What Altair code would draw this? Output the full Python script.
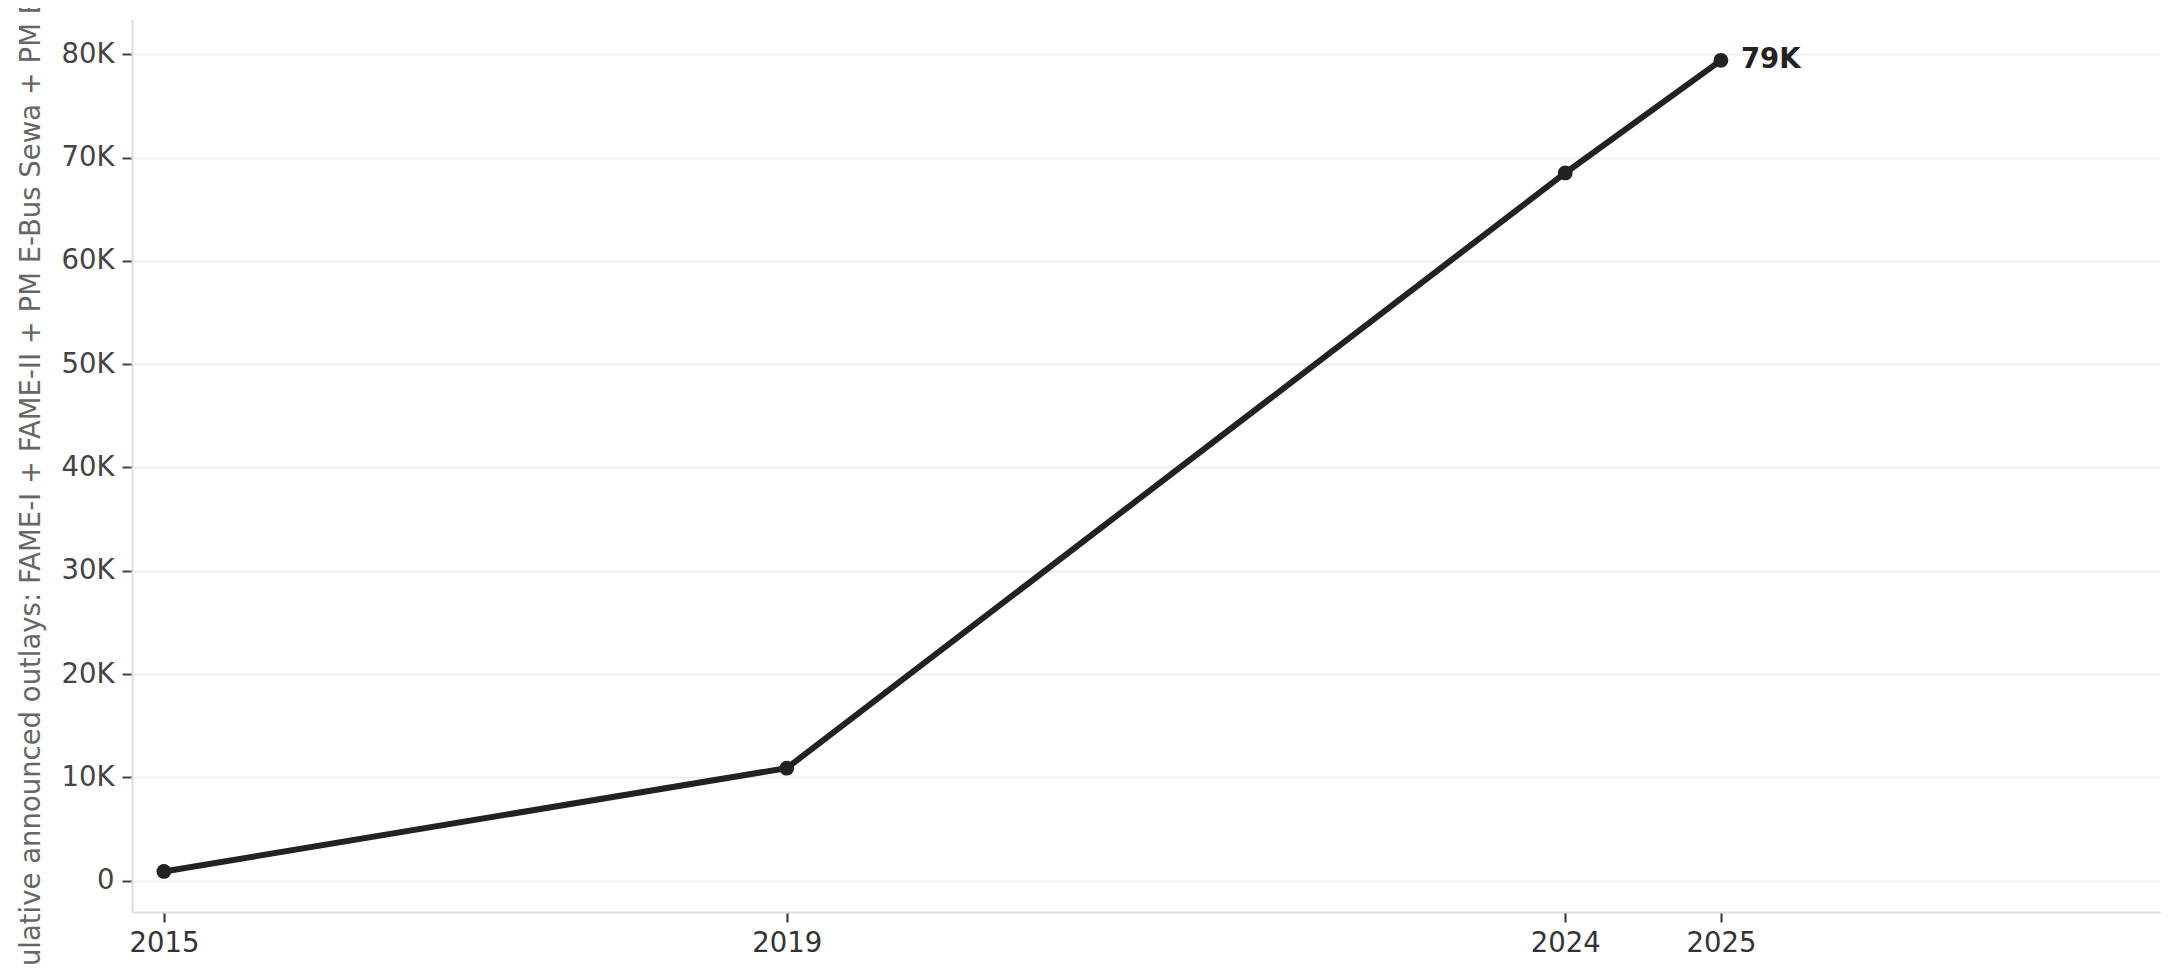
import altair as alt
import pandas as pd

# Data
years = [2015, 2019, 2024, 2025]
outlays = [895, 10895, 68508, 79408]          # cumulative outlays (₹ crore)
point_labels = ["", "", "", "79K"]
x_ticks = [2015, 2019, 2024, 2025]
y_ticks = [0, 10000, 20000, 30000, 40000, 50000, 60000, 70000, 80000]
y_title = "Cumulative announced outlays: FAME-I + FAME-II + PM E-Bus Sewa + PM E-DRIVE"

df = pd.DataFrame({"year": years, "outlay": outlays, "label": point_labels})

INK = "#222222"
FS = 27.5

x_enc = alt.X(
    "year:Q",
    scale=alt.Scale(domain=[2014.795, 2027.82], nice=False, zero=False),
    axis=alt.Axis(
        values=x_ticks, format="d", grid=False, title=None,
        labelFontSize=FS, labelColor="#333333", labelPadding=7,
        tickSize=10, tickWidth=2, tickColor="#333333",
        domainColor="#dddddd", domainWidth=2, labelFlush=False,
    ),
)
y_enc = alt.Y(
    "outlay:Q",
    scale=alt.Scale(domain=[-3030, 83410], nice=False, zero=False),
    axis=alt.Axis(
        values=y_ticks,
        labelExpr="datum.value == 0 ? '0' : format(datum.value / 1000, 'd') + 'K'",
        grid=True, gridColor="#ebebeb", gridWidth=1.5,
        labelFontSize=FS, labelColor="#444444", labelPadding=8,
        tickSize=10, tickWidth=2, tickColor="#444444",
        domainColor="#dddddd", domainWidth=2,
        title=y_title, titleFontSize=FS, titleFontWeight="normal",
        titleColor="#666666", titleAngle=270, titleBaseline="middle",
        titleAlign="center", titleX=-101, titleY=446.5,
    ),
)

base = alt.Chart(df)
line = base.mark_line(color=INK, strokeWidth=6).encode(x=x_enc, y=y_enc)
points = base.mark_point(filled=True, size=220, color=INK, opacity=1).encode(x=x_enc, y=y_enc)
labels = base.transform_filter("datum.label != ''").mark_text(
    align="left", baseline="middle", dx=20, dy=0,
    fontSize=FS, fontWeight="bold", color=INK,
).encode(x=x_enc, y=y_enc, text="label:N")

chart = (
    alt.layer(line, points, labels)
    .properties(
        width=2028, height=893,
        autosize=alt.AutoSizeParams(type="none"),
        padding={"left": 124, "top": 11, "right": 11, "bottom": 55},
    )
    .configure(font="DejaVu Sans")
    .configure_view(stroke=None)
)

chart.save("out.html", embed_options={"renderer": "svg", "actions": False})
